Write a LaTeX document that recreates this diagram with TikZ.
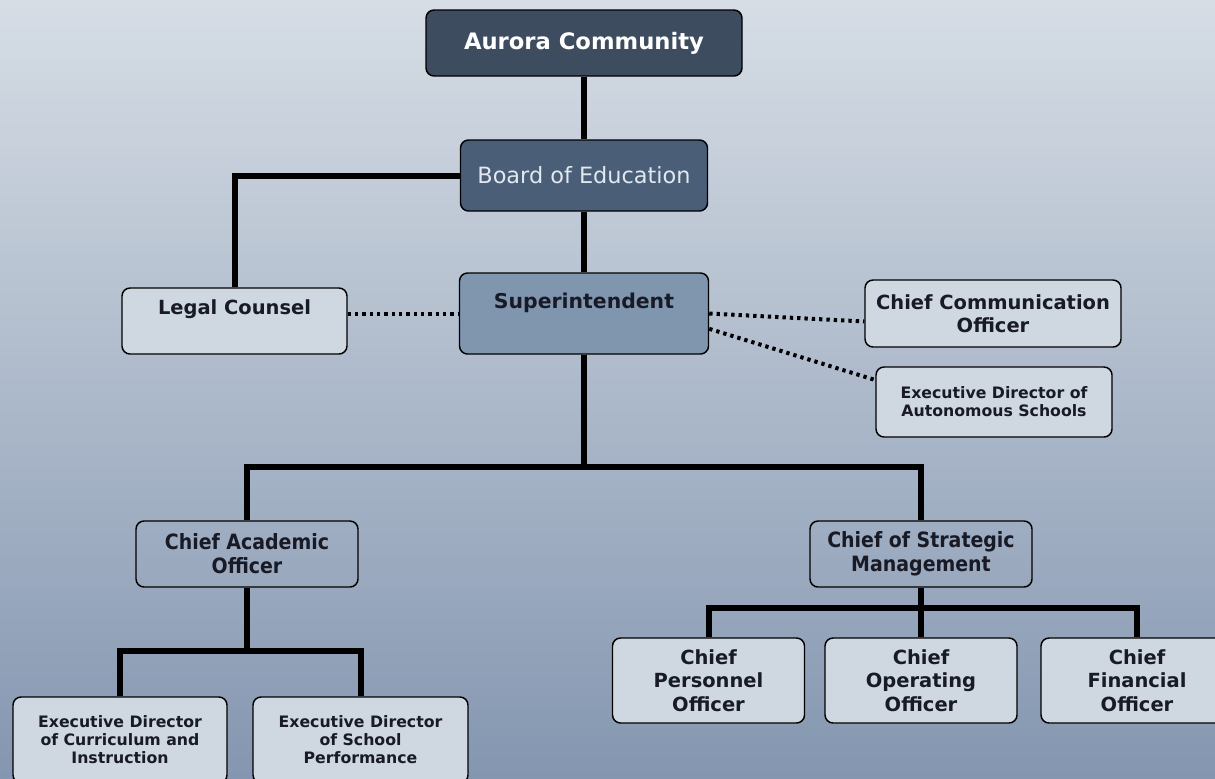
\documentclass[tikz,border=0pt]{standalone}
\usepackage{fontspec}
\setmainfont{DejaVu Sans}
\newfontfamily\condfont{DejaVu Sans Condensed}
\definecolor{bgtop}{RGB}{214,221,229}
\definecolor{bgbottom}{RGB}{132,150,176}
\definecolor{darkbox}{RGB}{61,76,95}
\definecolor{boardbox}{RGB}{74,94,120}
\definecolor{superbox}{RGB}{128,150,174}
\definecolor{lightbox}{RGB}{207,215,225}
\definecolor{ink}{RGB}{24,26,38}
\definecolor{paletext}{RGB}{226,232,240}

\begin{document}
\begin{tikzpicture}[x=0.75pt, y=-0.75pt,
    box/.style={draw=black, line width=1.1pt, rounded corners=6pt, fill=lightbox, text=ink,
        align=center, inner sep=0pt, font=\bfseries\fontsize{14.6}{17.5}\selectfont},
    boxsize/.style 2 args={minimum width=#1*0.75pt, minimum height=#2*0.75pt},
    smalltext/.style={font=\bfseries\fontsize{11.8}{13.5}\selectfont},
    condtext/.style={fill=none, font=\condfont\bfseries\fontsize{15.8}{18}\selectfont},
    wire/.style={line width=4.5pt, line join=miter},
    dotwire/.style={line width=3pt, dash pattern=on 2.5pt off 3pt}]

    \clip (0, 0) rectangle (1215, 779);
    \shade[top color=bgtop, bottom color=bgbottom] (0, 0) rectangle (1215, 779);

    \node[box, boxsize={316}{66}, fill=darkbox, text=white, font=\bfseries\fontsize{17}{20}\selectfont] (aurora) at (584, 43) {Aurora Community};
    \node[box, boxsize={247}{71}, fill=boardbox, text=paletext, font=\fontsize{16.8}{20}\selectfont] (board) at (584, 175.5) {Board of Education};
    \node[box, boxsize={249}{81}, fill=superbox, text height=10pt, text depth=17pt, font=\bfseries\fontsize{15.3}{18}\selectfont] (super) at (584, 313.5) {Superintendent};
    \node[box, boxsize={225}{66}, text height=10pt, text depth=19.5pt] (legal) at (234.5, 321) {Legal Counsel};
    \node[box, boxsize={256}{67}] (comm) at (993, 313.5) {Chief Communication\\Officer};
    \node[box, boxsize={236}{70}, smalltext] (auto) at (994, 402) {Executive Director of\\Autonomous Schools};

    \node[box, boxsize={222}{66}, condtext] (cao) at (247, 554) {Chief Academic\\Officer};
    \node[box, boxsize={222}{66}, condtext] (csm) at (921, 554) {Chief of Strategic\\Management};

    \node[box, boxsize={214}{86}, smalltext] (edci) at (120, 740) {Executive Director\\of Curriculum and\\Instruction};
    \node[box, boxsize={215}{86}, smalltext] (edsp) at (360.5, 740) {Executive Director\\of School\\Performance};

    \node[box, boxsize={192}{85}] (cpo) at (708.5, 680.5) {Chief\\Personnel\\Officer};
    \node[box, boxsize={192}{85}] (coo) at (921, 680.5) {Chief\\Operating\\Officer};
    \node[box, boxsize={192}{85}] (cfo) at (1137, 680.5) {Chief\\Financial\\Officer};

    \coordinate (busA) at (584, 467);
    \coordinate (busB) at (247, 651);
    \coordinate (busC) at (921, 608);

    \draw[wire] (aurora) -- (board);
    \draw[wire] (board) -- (super);
    \draw[wire] (board.west) -| (legal.north);
    \draw[wire] (super) -- (busA);
    \draw[wire] (cao.north) |- (busA) -| (csm.north);
    \draw[wire] (cao) -- (busB);
    \draw[wire] (edci.north) |- (busB) -| (edsp.north);
    \draw[wire] (csm) -- (busC);
    \draw[wire] (cpo.north) |- (busC) -| (cfo.north);
    \draw[wire] (busC) -- (coo);

    \draw[dotwire] (legal.east |- super.west) -- (super.west);
    \draw[dotwire] (super.east) -- ([yshift=-6pt]comm.west);
    \draw[dotwire] ([yshift=-11.5pt]super.east) -- ([yshift=16.5pt]auto.west);
\end{tikzpicture}
\end{document}
